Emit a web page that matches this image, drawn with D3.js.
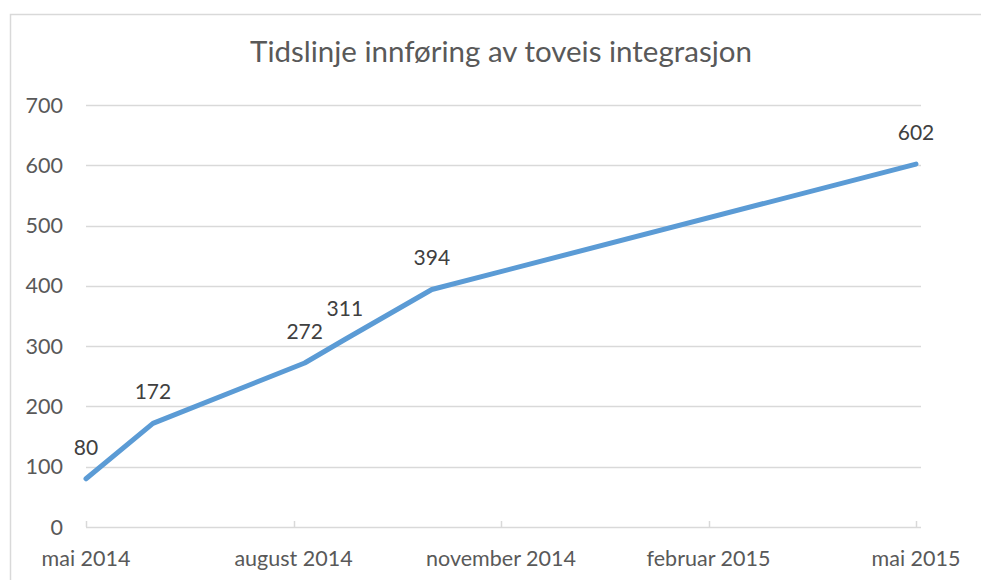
<!DOCTYPE html>
<html>
<head>
<meta charset="utf-8">
<script src="https://d3js.org/d3.v7.min.js"></script>
<style>
  body { margin: 0; background: #fff; }
  svg { display: block; font-family: Lato, "Open Sans", sans-serif; }
</style>
</head>
<body>
<div id="chart"></div>
<script>
// data
const pointDates = ["2014-05-01", "2014-05-31", "2014-08-06", "2014-08-24", "2014-10-01", "2015-05-01"];
const pointValues = [80, 172, 272, 311, 394, 602];
const yTicks = [0, 100, 200, 300, 400, 500, 600, 700];
const xTickDates = ["2014-05-01", "2014-08-01", "2014-11-01", "2015-02-01", "2015-05-01"];
const xTickLabels = ["mai 2014", "august 2014", "november 2014", "februar 2015", "mai 2015"];
const title = "Tidslinje innføring av toveis integrasjon";

const W = 981, H = 580;
const parse = d3.utcParse("%Y-%m-%d");

// Excel's date axis here gives every month the same width,
// so position = months since mai 2014 (+ fraction of the month)
function monthPos(str) {
    const d = parse(str);
    const start = d3.utcMonth.floor(d);
    const days = d3.utcDay.count(start, d3.utcMonth.offset(start, 1));
    const whole = (d.getUTCFullYear() - 2014) * 12 + d.getUTCMonth() - 4;
    return whole + (d.getUTCDate() - 1) / days;
}

const data = pointDates.map((d, i) => ({ pos: monthPos(d), value: pointValues[i] }));

const svg = d3.select("#chart").append("svg")
    .attr("width", W)
    .attr("height", H);

// outer chart border (runs off the picture right and bottom)
svg.append("rect")
   .attr("x", 10.5).attr("y", 14.5)
   .attr("width", 1000).attr("height", 700)
   .attr("fill", "none")
   .attr("stroke", "#d9d9d9")
   .attr("stroke-width", 1.5);

const x = d3.scaleLinear().domain([0, 12]).range([86, 916]);
const y = d3.scaleLinear().domain([0, 700]).range([527, 105]);
const gridRight = 921;

// title
svg.append("text")
   .attr("x", 501)
   .attr("y", 62)
   .attr("text-anchor", "middle")
   .style("font-size", "29.5px")
   .style("fill", "#595959")
   .text(title);

// gridlines
svg.selectAll(".grid")
   .data(yTicks.filter(d => d > 0))
   .enter().append("line")
   .attr("x1", x.range()[0]).attr("x2", gridRight)
   .attr("y1", d => Math.round(y(d)) + 0.5)
   .attr("y2", d => Math.round(y(d)) + 0.5)
   .attr("stroke", "#d9d9d9")
   .attr("stroke-width", 1.5);

// y tick labels
svg.selectAll(".ylab")
   .data(yTicks)
   .enter().append("text")
   .attr("x", 63)
   .attr("y", d => y(d))
   .attr("dy", "0.35em")
   .attr("text-anchor", "end")
   .style("font-size", "21.5px")
   .style("fill", "#595959")
   .text(d => d);

// x axis line + ticks
svg.append("line")
   .attr("x1", x.range()[0]).attr("x2", gridRight)
   .attr("y1", y(0) + 0.5).attr("y2", y(0) + 0.5)
   .attr("stroke", "#d9d9d9")
   .attr("stroke-width", 1.5);

svg.selectAll(".xtick")
   .data(xTickDates)
   .enter().append("line")
   .attr("x1", d => Math.round(x(monthPos(d))) + 0.5)
   .attr("x2", d => Math.round(x(monthPos(d))) + 0.5)
   .attr("y1", y(0) - 6).attr("y2", y(0))
   .attr("stroke", "#d9d9d9")
   .attr("stroke-width", 1.5);

svg.selectAll(".xlab")
   .data(xTickDates)
   .enter().append("text")
   .attr("x", d => x(monthPos(d)))
   .attr("y", 566)
   .attr("text-anchor", "middle")
   .style("font-size", "21.5px")
   .style("fill", "#595959")
   .text((d, i) => xTickLabels[i]);

// line
const line = d3.line()
    .x(d => x(d.pos))
    .y(d => y(d.value));

svg.append("path")
   .datum(data)
   .attr("d", line)
   .attr("fill", "none")
   .attr("stroke", "#5b9bd5")
   .attr("stroke-width", 5)
   .attr("stroke-linejoin", "round")
   .attr("stroke-linecap", "round");

// data labels
svg.selectAll(".lbl")
   .data(data)
   .enter().append("text")
   .attr("x", d => x(d.pos))
   .attr("y", d => y(d.value) - 24)
   .attr("text-anchor", "middle")
   .style("font-size", "21px")
   .style("fill", "#404040")
   .text(d => d.value);
</script>
</body>
</html>
